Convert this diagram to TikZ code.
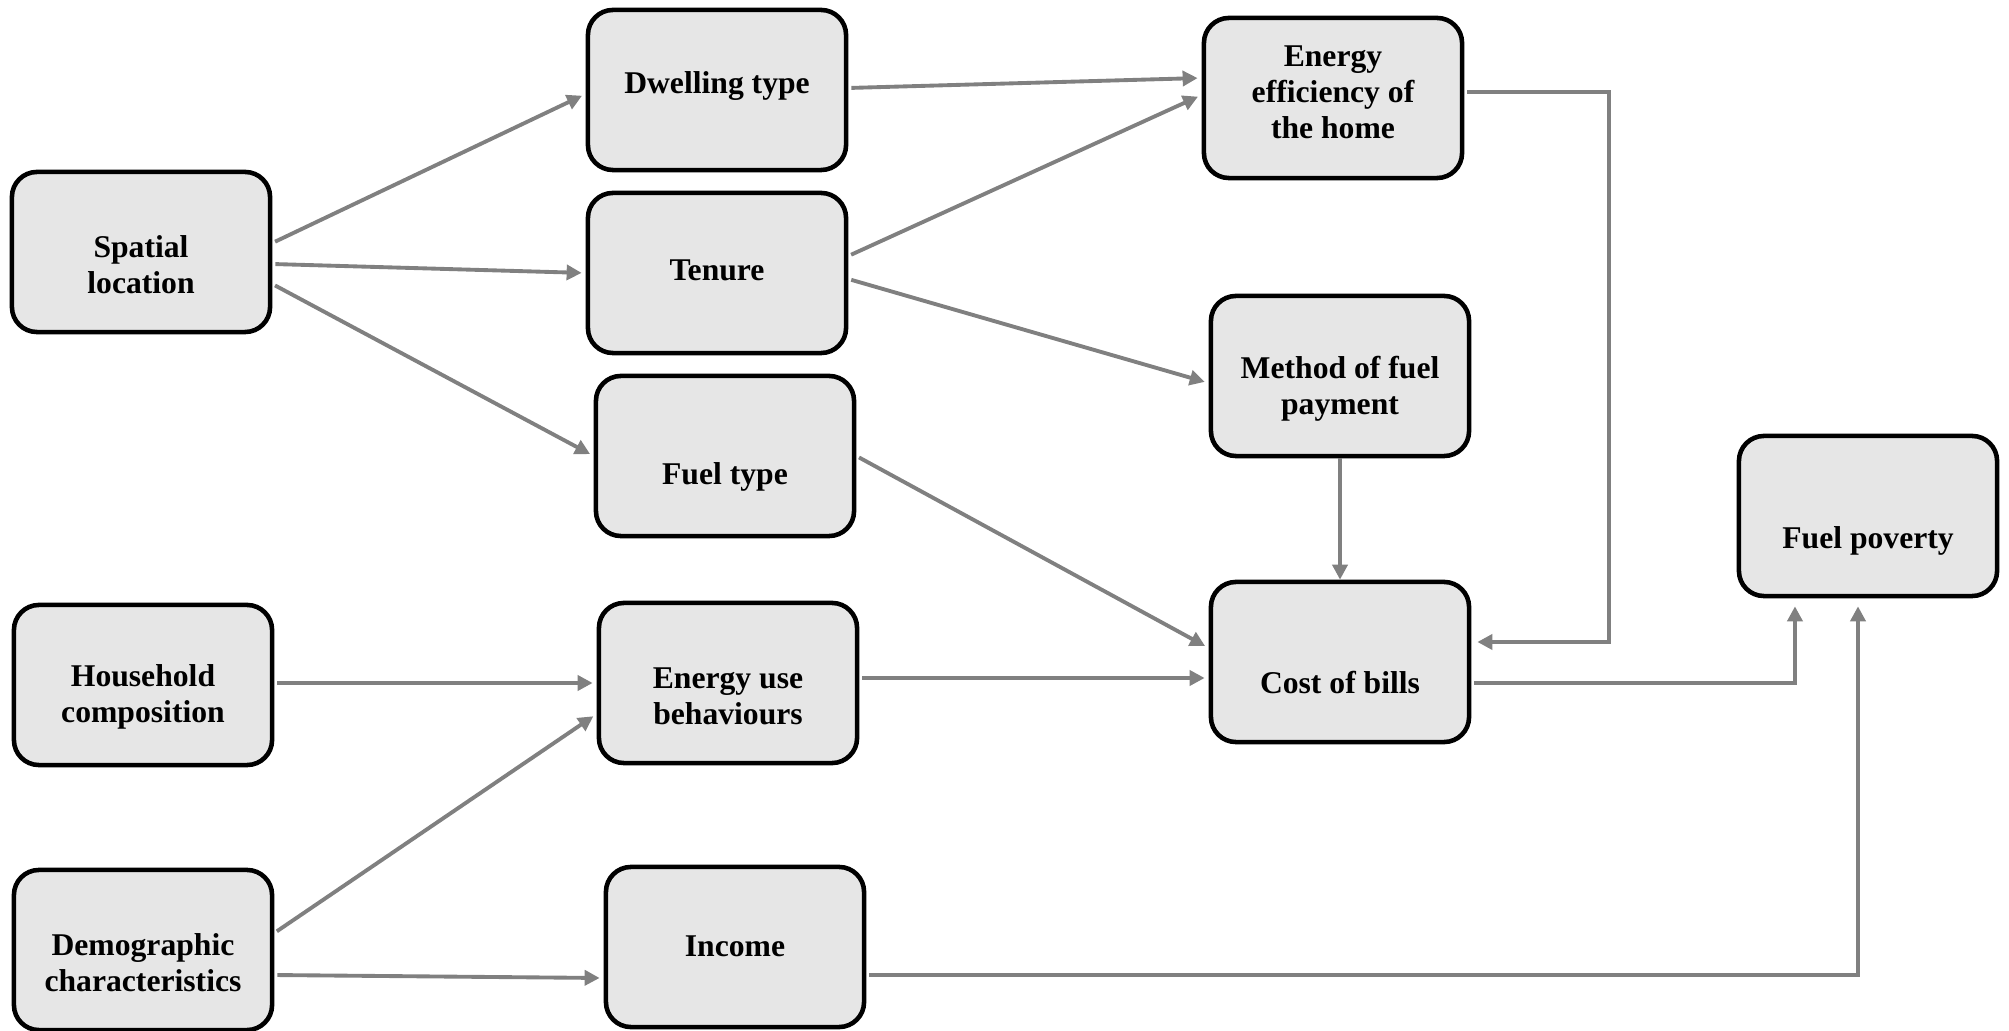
\documentclass[tikz,border=0pt]{standalone}
\usepackage{fontspec}
\setmainfont{Liberation Serif}
\usepackage{tikz}
\usetikzlibrary{arrows.meta,calc}

\definecolor{boxfill}{HTML}{E6E6E6}
\definecolor{linkgray}{HTML}{808080}

\tikzset{
  box/.style={draw=black, line width=1.3pt, fill=boxfill, rounded corners=0.25cm,
    minimum width=2.58cm, minimum height=1.6cm, inner sep=0pt},
  txt/.style={align=center, inner sep=0pt, font=\fontsize{9}{10.2}\selectfont\bfseries},
  link/.style={draw=linkgray, line width=1.1pt, -{Triangle[length=0.15cm,width=0.15cm]},
    shorten <=0.03cm, shorten >=0.04cm}
}

\begin{document}
\begin{tikzpicture}[x=0.01cm, y=-0.01cm]
      \useasboundingbox (0,0) rectangle (2009,1031);
      % boxes: name / centre x / centre y / text y / text
      \foreach \nm/\cx/\cy/\ty/\txt in {
          spatial/141/252/265/{Spatial\\location},
          household/143/685/697/{Household\\composition},
          demo/143/950/963/{Demographic\\characteristics},
          dwelling/717/90/86/{Dwelling type},
          tenure/717/273/270/{Tenure},
          fueltype/725/456/477/{Fuel type},
          energyuse/728/683/696/{Energy use\\behaviours},
          income/735/947/946/{Income},
          efficiency/1333/98/92/{Energy\\efficiency of\\the home},
          method/1340/376/389/{Method of fuel\\payment},
          cost/1340/662/683/{Cost of bills},
          poverty/1868/516/541/{Fuel poverty}}
      {
        \node[box] (\nm) at (\cx,\cy) {};
        \node[txt] (\nm-t) at (\cx,\ty) {\txt};
      }
      % spatial location
      \draw[link] ([yshift=0.09cm]spatial.east) -- ([yshift=-0.04cm]dwelling.west);
      \draw[link] ([yshift=-0.12cm]spatial.east) -- (tenure.west);
      \draw[link] ([yshift=-0.32cm]spatial.east) -- (fueltype.west);
      % second column
      \draw[link] ([yshift=0.02cm]dwelling.east) -- ([yshift=0.2cm]efficiency.west);
      \draw[link] ([yshift=0.17cm]tenure.east) -- ([yshift=0.03cm]efficiency.west);
      \draw[link] ([yshift=-0.06cm]tenure.east) -- ([yshift=-0.07cm]method.west);
      \draw[link] (fueltype.east) -- ([yshift=0.14cm]cost.west);
      \draw[link] ([yshift=0.02cm]household.east) -- ([yshift=0.02cm]household.east -| energyuse.west);
      \draw[link] ([yshift=0.05cm]energyuse.east) -- ([yshift=0.05cm]energyuse.east -| cost.west);
      \draw[link] ([yshift=0.17cm]demo.east) -- ([yshift=-0.31cm]energyuse.west);
      \draw[link] ([yshift=-0.25cm]demo.east) -- ([yshift=-0.31cm]income.west);
      % into cost of bills
      \draw[link, shorten <=0pt, shorten >=0pt] (method.south) -- (cost.north);
      \draw[link, shorten >=0.06cm] ([yshift=0.06cm]efficiency.east) -- ++(145,0) |- ([yshift=0.2cm]cost.east);
      % into fuel poverty
      \draw[link, shorten >=0.08cm] ([yshift=-0.21cm]cost.east) -| ([xshift=-0.73cm]poverty.south);
      \draw[link, shorten >=0.08cm] ([yshift=-0.28cm]income.east) -| ([xshift=-0.1cm]poverty.south);
\end{tikzpicture}
\end{document}
